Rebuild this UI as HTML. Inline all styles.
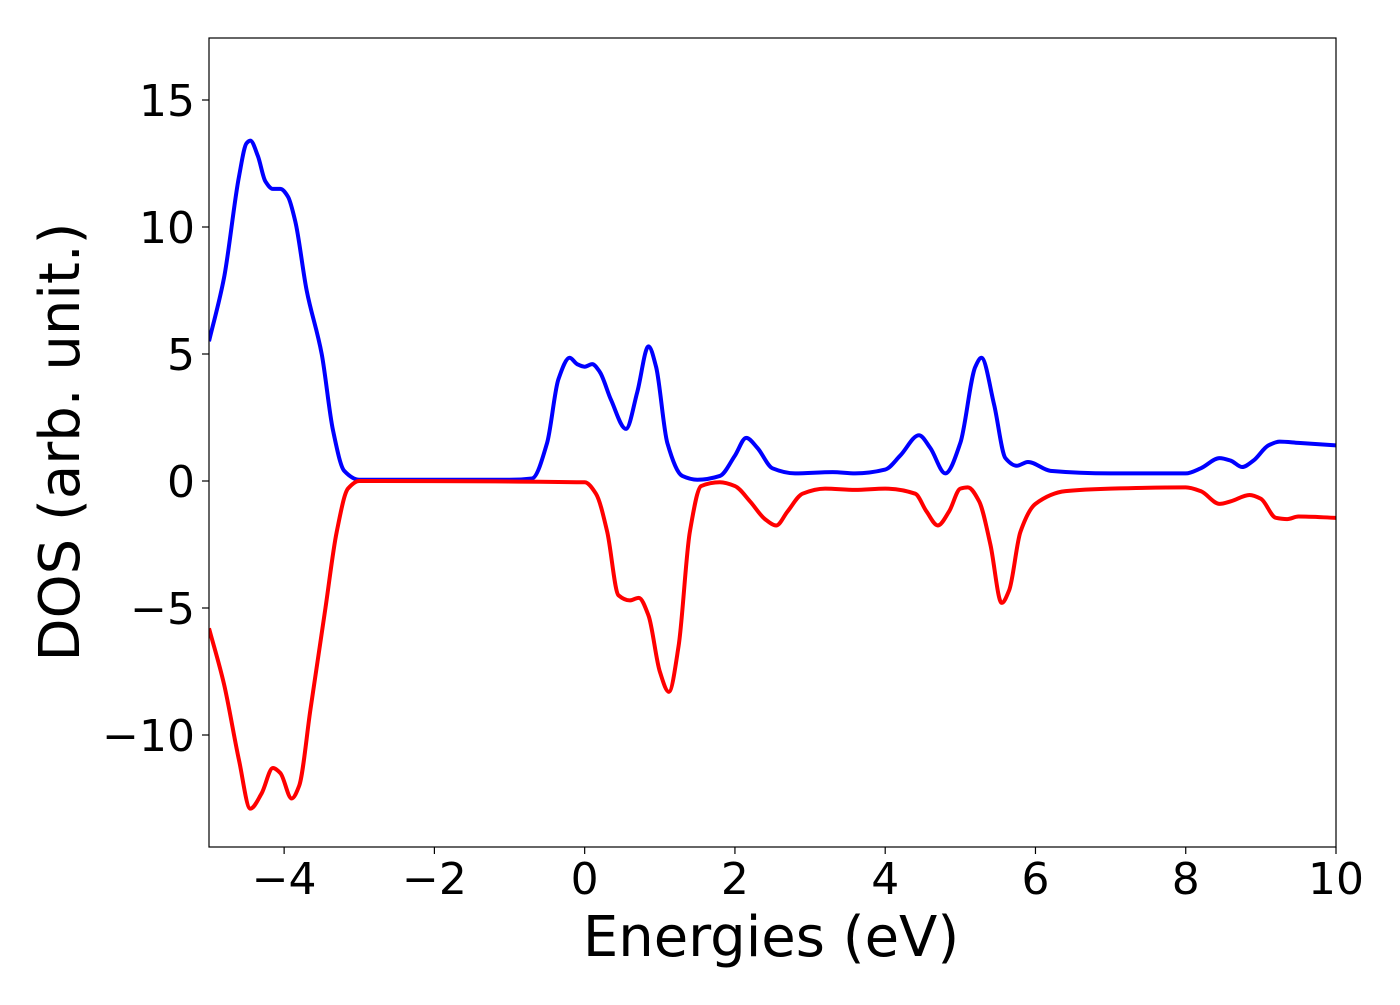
<!DOCTYPE html>
<html><head><meta charset="utf-8"><style>
body{margin:0;background:#fff}
svg text{font-family:"DejaVu Sans","Liberation Sans",sans-serif;fill:#000}
</style></head><body>
<svg id="c" width="1400" height="1000">
<defs><clipPath id="clip"><rect x="209" y="38" width="1127" height="809"/></clipPath></defs>
<g id="ticks"></g>
<g id="lines" clip-path="url(#clip)"></g>
<rect x="209" y="38" width="1127" height="809" fill="none" stroke="#000" stroke-width="1.2"/>
<text x="771" y="956" font-size="56" text-anchor="middle">Energies (eV)</text>
<text transform="translate(79,442) rotate(-90)" font-size="56" text-anchor="middle">DOS (arb. unit.)</text>
</svg>
<script>
const xTicks=[-4,-2,0,2,4,6,8,10];
const yTicks=[-10,-5,0,5,10,15];
const upE=[-5,-4.8,-4.6,-4.5,-4.45,-4.35,-4.25,-4.15,-4.05,-3.95,-3.85,-3.7,-3.5,-3.35,-3.2,-3.0,-1,-0.7,-0.5,-0.35,-0.2,-0.1,0,0.1,0.2,0.35,0.55,0.7,0.85,0.95,1.1,1.3,1.5,1.8,2.0,2.15,2.3,2.5,2.8,3.3,3.6,4.0,4.2,4.45,4.6,4.8,5.0,5.2,5.28,5.45,5.6,5.75,5.9,6.2,7,8,8.2,8.45,8.6,8.75,8.9,9.1,9.25,9.5,10];
const upDOS=[5.5,8,12,13.3,13.4,12.8,11.8,11.5,11.5,11.2,10.2,7.5,5,2,0.4,0.05,0.05,0.1,1.5,4,4.85,4.6,4.5,4.6,4.3,3.2,2.05,3.5,5.3,4.5,1.5,0.2,0.05,0.2,1.0,1.7,1.3,0.5,0.3,0.35,0.3,0.45,1.0,1.8,1.3,0.3,1.5,4.5,4.85,3,0.9,0.6,0.75,0.4,0.3,0.3,0.5,0.9,0.8,0.55,0.8,1.4,1.55,1.5,1.4];
const dnE=[-5,-4.8,-4.6,-4.45,-4.3,-4.15,-4.05,-3.9,-3.8,-3.65,-3.45,-3.3,-3.15,-3,0,0.15,0.3,0.45,0.6,0.72,0.85,1.0,1.12,1.25,1.4,1.55,1.8,2.0,2.2,2.4,2.55,2.7,2.9,3.2,3.6,4.0,4.4,4.55,4.7,4.85,5.0,5.1,5.25,5.4,5.55,5.65,5.8,6.0,6.4,7,8,8.2,8.45,8.6,8.85,9.0,9.2,9.35,9.5,10];
const dnDOS=[-5.8,-8,-11,-12.9,-12.3,-11.3,-11.5,-12.5,-12,-9,-5,-2,-0.3,0,-0.05,-0.5,-2,-4.5,-4.7,-4.6,-5.3,-7.5,-8.3,-6.5,-2,-0.2,-0.05,-0.2,-0.8,-1.5,-1.75,-1.2,-0.5,-0.3,-0.35,-0.3,-0.5,-1.2,-1.75,-1.2,-0.3,-0.25,-0.8,-2.5,-4.8,-4.3,-2,-0.9,-0.4,-0.3,-0.25,-0.4,-0.9,-0.8,-0.55,-0.7,-1.45,-1.5,-1.4,-1.45];
const X=v=>209+(v+5)*1127/15;
const Y=v=>481-v*25.4;
const NS='http://www.w3.org/2000/svg';
const tg=document.getElementById('ticks');
function mk(t,a){const e=document.createElementNS(NS,t);for(const k in a)e.setAttribute(k,a[k]);return e;}
xTicks.forEach(t=>{
 const l=mk('line',{x1:X(t),x2:X(t),y1:847,y2:854,stroke:'#000','stroke-width':1.2});
 
 
 tg.appendChild(l);
 const s=mk('text',{x:X(t),y:894,'font-size':44,'text-anchor':'middle'});
 
 
 s.textContent=(t<0?'\u2212':'')+Math.abs(t);tg.appendChild(s);
});
yTicks.forEach(t=>{
 const l=mk('line',{x1:202,x2:209,y1:Y(t),y2:Y(t),stroke:'#000','stroke-width':1.2});
 
 
 tg.appendChild(l);
 const s=mk('text',{x:195,y:Y(t)+16,'font-size':44,'text-anchor':'end'});
 
 
 s.textContent=(t<0?'\u2212':'')+Math.abs(t);tg.appendChild(s);
});
function path(xs,ys){
 const p=xs.map((x,i)=>[X(x),Y(ys[i])]);
 const n=p.length,d=[],m=[];
 for(let i=0;i<n-1;i++)d.push((p[i+1][1]-p[i][1])/(p[i+1][0]-p[i][0]));
 m[0]=d[0];m[n-1]=d[n-2];
 for(let i=1;i<n-1;i++){
  if(d[i-1]*d[i]<=0)m[i]=0;
  else{const h0=p[i][0]-p[i-1][0],h1=p[i+1][0]-p[i][0];const w1=2*h1+h0,w2=h1+2*h0;m[i]=(w1+w2)/(w1/d[i-1]+w2/d[i]);}
 }
 let s='M'+p[0][0]+','+p[0][1];
 for(let i=0;i<n-1;i++){
  const h=(p[i+1][0]-p[i][0])/3;
  s+=' C'+(p[i][0]+h)+','+(p[i][1]+m[i]*h)+' '+(p[i+1][0]-h)+','+(p[i+1][1]-m[i+1]*h)+' '+p[i+1][0]+','+p[i+1][1];
 }
 return s;
}
const lg=document.getElementById('lines');
const up=mk('path',{d:path(upE,upDOS),fill:'none',stroke:'#0000ff','stroke-width':4,'stroke-linejoin':'round'});


lg.appendChild(up);
const dn=mk('path',{d:path(dnE,dnDOS),fill:'none',stroke:'#ff0000','stroke-width':4,'stroke-linejoin':'round'});


lg.appendChild(dn);
</script>
</body></html>
